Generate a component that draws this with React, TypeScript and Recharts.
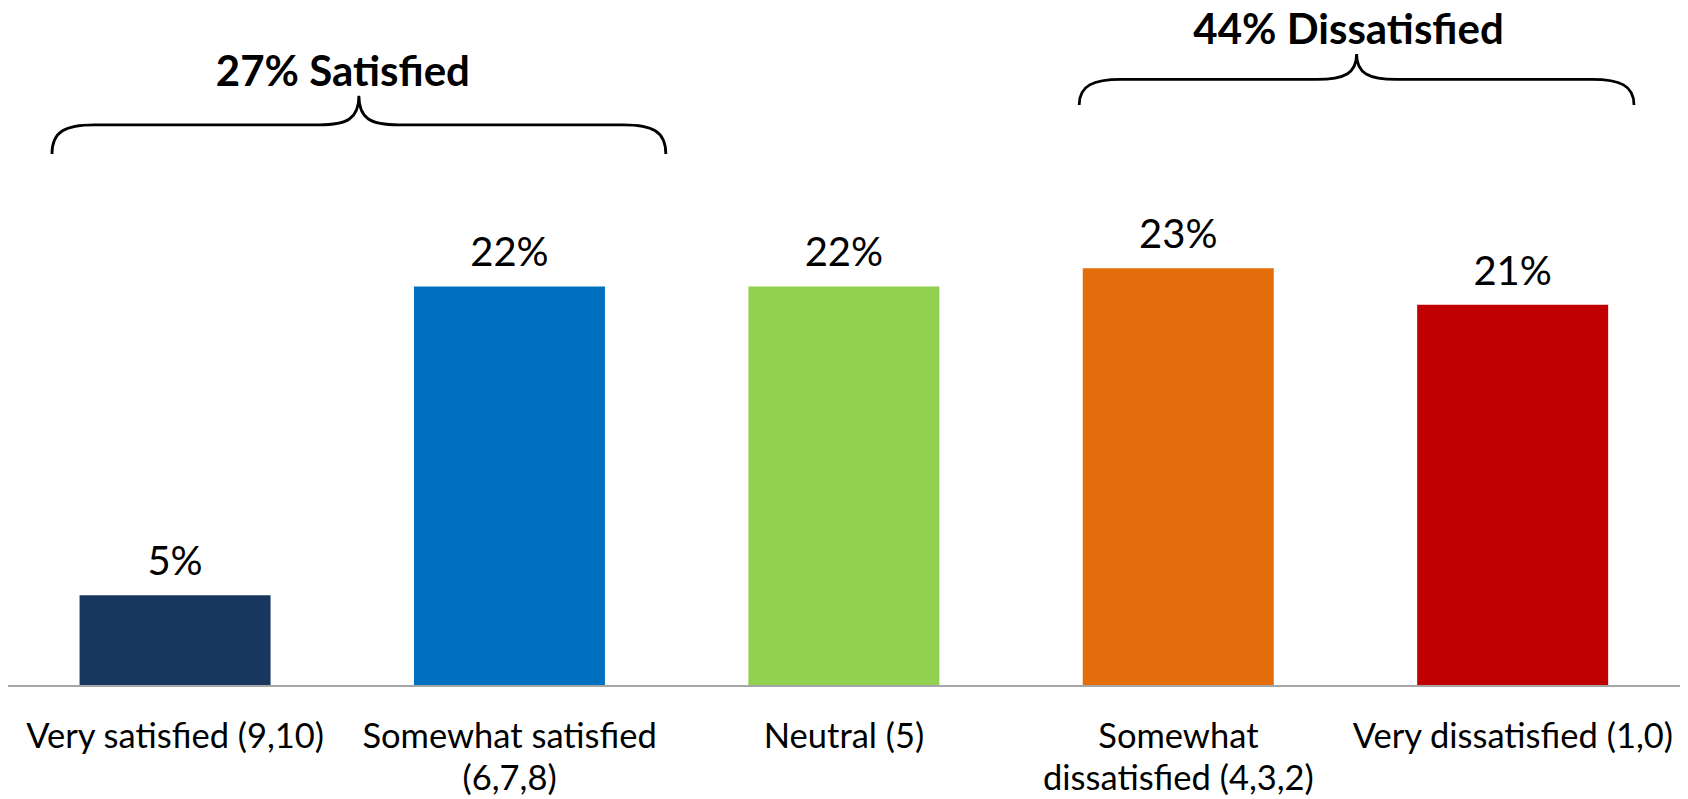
import { BarChart, Bar, XAxis, YAxis, Cell, LabelList, ReferenceArea } from 'recharts';

// Response categories (line breaks mark where the axis label wraps)
const categories = [
  'Very satisfied (9,10)',
  'Somewhat satisfied\n(6,7,8)',
  'Neutral (5)',
  'Somewhat\ndissatisfied (4,3,2)',
  'Very dissatisfied (1,0)',
];
const shares = [5, 22, 22, 23, 21];
const barColors = ['#17375E', '#0070C0', '#92D050', '#E46C0A', '#C00000'];

// Group brackets drawn above the bars
const groupTitles = ['27% Satisfied', '44% Dissatisfied'];
const groupFirst = [0, 3];
const groupLast = [1, 4];
const groupTipLevel = [32.5, 34.8];
const groupEndLevel = [29.3, 32.0];

const data = categories.map((name, i) => ({ name, share: shares[i] }));

const FONT = 'Lato, "Open Sans", sans-serif';
const BRACE_INSETS = [
  [44, 11],
  [68, 46],
];
const TITLE_SHIFT = [-16, -8];

function Brace(props: any) {
  const { x, y, width, height, title, inset, shift } = props;
  const x0 = x + inset[0];
  const x1 = x + width - inset[1];
  const xc = (x0 + x1) / 2;
  const top = y;
  const bottom = y + height;
  const mid = (top + bottom) / 2;
  const r = 42;
  const t = 40;
  const d = [
    `M ${x0} ${bottom}`,
    `C ${x0} ${mid + 6} ${x0 + 14} ${mid} ${x0 + r} ${mid}`,
    `L ${xc - t} ${mid}`,
    `C ${xc - 12} ${mid} ${xc} ${mid - 6} ${xc} ${top}`,
    `C ${xc} ${mid - 6} ${xc + 12} ${mid} ${xc + t} ${mid}`,
    `L ${x1 - r} ${mid}`,
    `C ${x1 - 14} ${mid} ${x1} ${mid + 6} ${x1} ${bottom}`,
  ].join(' ');
  return (
    <g>
      <path d={d} fill="none" stroke="#000" strokeWidth={2.8} />
      <text
        x={xc + shift}
        y={top - 26}
        textAnchor="middle"
        dominantBaseline="central"
        fontFamily={FONT}
        fontSize={42}
        fontWeight={700}
        fill="#000"
      >
        {title}
      </text>
    </g>
  );
}

function CategoryTick(props: any) {
  const { x, y, payload } = props;
  const lines = String(payload.value).split('\n');
  return (
    <text x={x} y={y} textAnchor="middle" fontFamily={FONT} fontSize={34.5} fill="#000">
      {lines.map((line, i) => (
        <tspan key={i} x={x} dy={i === 0 ? 62 : 42}>
          {line}
        </tspan>
      ))}
    </text>
  );
}

export default function App() {
  return (
    <div style={{ position: 'absolute', left: 0, top: 0, width: 1688, height: 799, background: '#fff' }}>
      <BarChart
        width={1688}
        height={799}
        data={data}
        margin={{ top: 5, right: 8, left: 8, bottom: 13 }}
        barCategoryGap="21.4%"
      >
        <XAxis
          dataKey="name"
          interval={0}
          tickLine={false}
          tickSize={0}
          tickMargin={0}
          height={100}
          axisLine={{ stroke: '#A6A6A6', strokeWidth: 2 }}
          tick={<CategoryTick />}
        />
        <YAxis hide domain={[0, 37.5]} />
        <Bar dataKey="share" isAnimationActive={false}>
          {data.map((_, index) => (
            <Cell key={`cell-${index}`} fill={barColors[index]} />
          ))}
          <LabelList
            dataKey="share"
            position="top"
            offset={20}
            formatter={(v: any) => `${v}%`}
            fill="#000"
            fontSize={40}
            fontFamily={FONT}
          />
        </Bar>
        {groupTitles.map((title, i) => (
          <ReferenceArea
            key={title}
            x1={categories[groupFirst[i]]}
            x2={categories[groupLast[i]]}
            y1={groupEndLevel[i]}
            y2={groupTipLevel[i]}
            shape={(p: any) => (
              <Brace {...p} title={title} inset={BRACE_INSETS[i]} shift={TITLE_SHIFT[i]} />
            )}
          />
        ))}
      </BarChart>
    </div>
  );
}
